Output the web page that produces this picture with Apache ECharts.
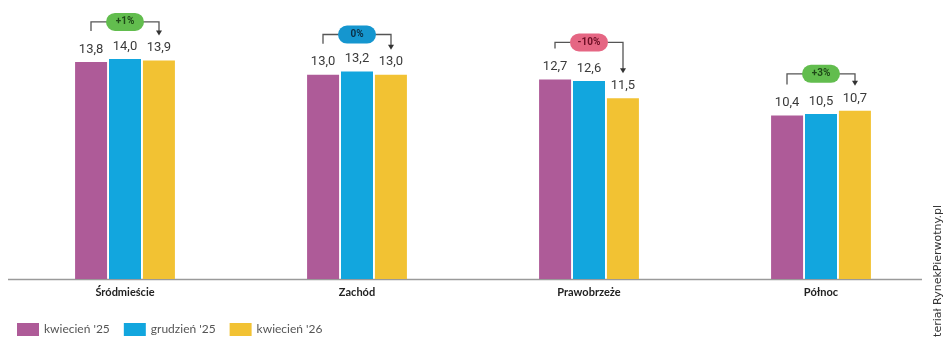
<!DOCTYPE html>
<html>
<head>
<meta charset="utf-8">
<script src="https://cdn.jsdelivr.net/npm/echarts@6/dist/echarts.min.js"></script>
<style>
  html, body { margin: 0; padding: 0; background: #fff; }
  #main { width: 944px; height: 338px; }
</style>
</head>
<body>
<div id="main"></div>
<script>
// dane
const categories = ['Śródmieście', 'Zachód', 'Prawobrzeże', 'Północ']
const kwiecien25 = [13.8, 13.0, 12.7, 10.4]
const grudzien25 = [14.0, 13.2, 12.6, 10.5]
const kwiecien26 = [13.9, 13.0, 11.5, 10.7]
const changes = ['+1%', '0%', '-10%', '+3%']
const seriesNames = ["kwiecień '25", "grudzień '25", "kwiecień '26"]

const colors = ['#AE5B98', '#12A6DE', '#F2C233']
const pillColors = { up: ['#62BD4E', '#1F4A18'], flat: ['#1596CF', '#0B2F47'], down: ['#E56683', '#6E0F26'] }

const main = document.getElementById('main')
const myChart = echarts.init(main)

const fmt = (p) => String(p.value).includes('.') ? String(p.value).replace('.', ',') : p.value + ',0'

const labelStyle = {
  show: true,
  position: 'top',
  distance: 6,
  color: '#3a3a3a',
  fontSize: 13,
  fontFamily: 'Liberation Sans Narrow, Roboto',
  formatter: fmt
}

function barSeries(name, data, color) {
  return {
    name: name,
    type: 'bar',
    data: data,
    barWidth: 32,
    barGap: '6%',
    itemStyle: { color: color },
    label: labelStyle
  }
}

// nawiasy ze zmianą procentową
const bracketData = categories.map((c, i) => [i, kwiecien25[i], Math.max(kwiecien25[i], grudzien25[i], kwiecien26[i]), kwiecien26[i], changes[i]])

function renderBracket(params, api) {
  const idx = api.value(0)
  const cx = api.coord([idx, 0])[0]
  const leftX = cx - 34
  const rightX = cx + 34
  const topY = api.coord([idx, api.value(2)])[1] - 37
  const leftEnd = api.coord([idx, api.value(1)])[1] - 31
  const rightEnd = api.coord([idx, api.value(3)])[1] - 25
  const txt = changes[params.dataIndex]
  const pc = txt.startsWith('+') ? pillColors.up : (txt.startsWith('-') ? pillColors.down : pillColors.flat)
  const lineStyle = { stroke: '#555', lineWidth: 1.3, fill: null }
  return {
    type: 'group',
    children: [
      { type: 'polyline', shape: { points: [[leftX, leftEnd], [leftX, topY], [rightX, topY], [rightX, rightEnd - 4]] }, style: lineStyle },
      { type: 'polygon', shape: { points: [[rightX - 3, rightEnd - 5], [rightX + 3, rightEnd - 5], [rightX, rightEnd]] }, style: { fill: '#333' } },
      { type: 'rect', shape: { x: cx - 19, y: topY - 9, width: 38, height: 18, r: 9 }, style: { fill: pc[0] } },
      { type: 'text', x: cx, y: topY, style: { text: txt, fill: pc[1], fontSize: 10, fontWeight: 'bold', fontFamily: 'Liberation Sans Narrow, Roboto', align: 'center', verticalAlign: 'middle' } }
    ]
  }
}

myChart.setOption({
  animation: false,
  backgroundColor: '#fff',
  grid: { left: 9, right: 7, top: 0, bottom: 59 },
  legend: {
    left: 12,
    top: 318,
    itemWidth: 22,
    itemHeight: 13,
    itemGap: 14,
    icon: 'rect',
    textStyle: { color: '#555', fontSize: 12, fontFamily: 'Lato, Roboto' },
    data: seriesNames
  },
  xAxis: {
    type: 'category',
    data: categories,
    axisLine: { show: false },
    axisTick: { show: false },
    axisLabel: { margin: 8, color: '#222', fontSize: 11, fontWeight: 'bold', fontFamily: 'Lato, Roboto' }
  },
  yAxis: {
    type: 'value',
    min: 0,
    max: 17.75,
    show: false,
    splitLine: { show: false }
  },
  graphic: [
    { type: 'line', shape: { x1: 8, y1: 279.5, x2: 922, y2: 279.5 }, style: { stroke: '#9a9a9a', lineWidth: 1.5 } },
    { type: 'text', x: 938, y: 205, rotation: Math.PI / 2, style: { text: 'Materiał RynekPierwotny.pl', fill: '#333', fontSize: 11, fontFamily: 'DejaVu Sans', align: 'right', verticalAlign: 'middle' } }
  ],
  series: [
    barSeries(seriesNames[0], kwiecien25, colors[0]),
    barSeries(seriesNames[1], grudzien25, colors[1]),
    barSeries(seriesNames[2], kwiecien26, colors[2]),
    {
      type: 'custom',
      renderItem: renderBracket,
      data: bracketData,
      encode: { x: 0, y: [1, 2, 3] },
      clip: false,
      z: 5,
      silent: true
    }
  ]
})
</script>
</body>
</html>
